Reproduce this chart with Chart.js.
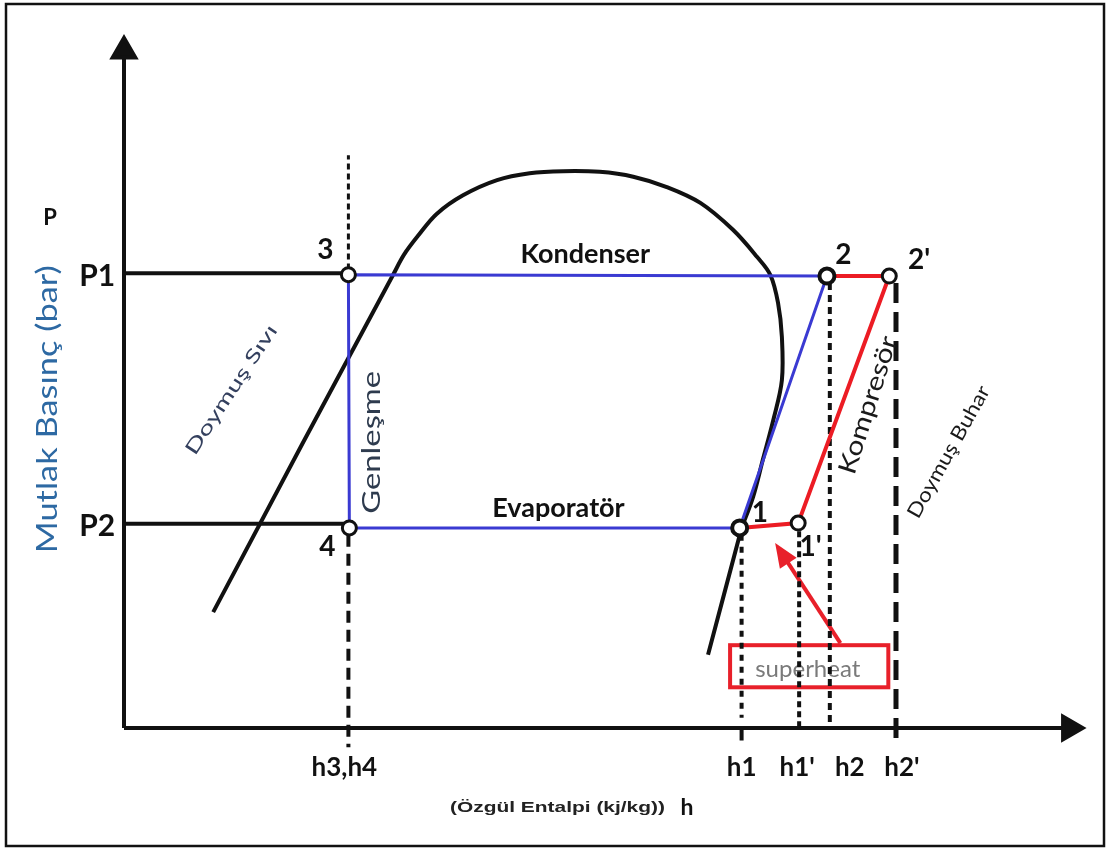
<!DOCTYPE html>
<html>
<head>
<meta charset="utf-8">
<script src="https://cdn.jsdelivr.net/npm/chart.js@4.4.1/dist/chart.umd.min.js"></script>
<style>
  html, body { margin: 0; padding: 0; background: #fff; }
  #wrap { width: 1109px; height: 850px; position: relative; }
</style>
</head>
<body>
<div id="wrap"><canvas id="phChart"></canvas></div>
<script>
// cycle state points, h and p in diagram units (0..100 on both axes)
var stateNames = ['1', "1'", '2', "2'", '3', '4'];
var stateH = [64.2, 70.3, 73.3, 79.8, 23.4, 23.5];
var stateP = [29.0, 29.7, 65.5, 65.5, 65.7, 29.0];

// saturation dome (liquid side up over the top and down the vapour side)
var domeH = [9.3, 18.6, 28.05, 29.2, 30.7, 32.6, 35.35, 38.9, 42.3, 45.8, 49.6, 53.1, 56.6, 60.1, 63.5, 66.0, 67.4, 68.2, 68.6, 68.6, 67.7, 66.6, 65.6, 64.4, 62.65, 60.9];
var domeP = [16.8, 41.2, 65.65, 68.6, 71.4, 74.5, 77.2, 79.4, 80.4, 80.7, 80.6, 79.9, 78.4, 76.1, 72.2, 68.3, 65.65, 61.6, 56.7, 50.4, 44.6, 38.8, 33.5, 29.0, 19.8, 10.6];
var liquidEnd = 2;   // last point of the straight liquid line
var vaporStart = 23; // first point of the straight lower vapour line

// pressure levels and enthalpy marks
var pressureLabels = ['P1', 'P2'];
var pressureValues = [65.9, 29.6];
var enthalpyLabels = ['h3,h4', 'h1', "h1'", 'h2', "h2'"];
var enthalpyValues = [23.4, 64.4, 70.4, 73.6, 80.5];

function pt(i) { return { x: stateH[i], y: stateP[i] }; }
var S = {};
stateNames.forEach(function (n, i) { S[n] = pt(i); });

// text annotations (data units), drawn by the plugin below
var notes = [
  { t: 'Kondenser', h: 48.1, p: 68.6, font: 'bold 27px Lato' },
  { t: 'Evaporatör', h: 45.3, p: 31.9, font: 'bold 27px Lato' },
  { t: '3', h: 21.0, p: 69.3, font: 'bold 28px Lato' },
  { t: '4', h: 21.2, p: 26.2, font: 'bold 28px Lato' },
  { t: '1', h: 66.3, p: 31.2, font: 'bold 28px Lato' },
  { t: "1'", h: 71.6, p: 26.2, font: 'bold 28px Lato' },
  { t: '2', h: 75.0, p: 68.6, font: 'bold 28px Lato' },
  { t: "2'", h: 82.9, p: 67.8, font: 'bold 28px Lato' },
  { t: 'P', h: -7.7, p: 73.9, font: 'bold 22px Lato' },
  { t: 'Mutlak Basınç (bar)', h: -7.9, p: 46.2, font: '28px Lato', color: '#2d69a3', rot: -90, w: 288 },
  { t: 'Genleşme', h: 25.9, p: 41.4, font: '25px Lato', color: '#2e3b4e', rot: -90, w: 143 },
  { t: 'Doymuş Sıvı', h: 11.2, p: 49.0, font: '19px Lato', color: '#34405e', rot: -56.6, w: 151 },
  { t: 'Kompresör', h: 77.6, p: 46.8, font: '25px Lato', color: '#1a1a1a', rot: -72.4, w: 143 },
  { t: 'Doymuş Buhar', h: 86.0, p: 40.0, font: '20px Lato', color: '#1a1a1a', rot: -60.8, w: 148 },
  { t: '(Özgül Entalpi (kj/kg))', h: 45.2, p: -11.6, font: 'bold 15px "Liberation Sans"', color: '#222', w: 215 },
  { t: 'h', h: 58.7, p: -11.6, font: 'bold 23px Lato' }
];
var enthalpyLabelShift = [-4, 0, -2, 20, 6]; // px, labels sit a little off their lines

var bgAndFrame = {
  id: 'bgAndFrame',
  beforeDraw: function (chart) {
    var c = chart.ctx;
    c.save();
    c.fillStyle = '#fff';
    c.fillRect(0, 0, chart.width, chart.height);
    c.restore();
  },
  beforeDatasetsDraw: function (chart) {
    // superheat callout sits under the dotted h2 line
    var c = chart.ctx, xs = chart.scales.x, ys = chart.scales.y;
    var x0 = xs.getPixelForValue(63.2), x1 = xs.getPixelForValue(79.7);
    var y0 = ys.getPixelForValue(12.0), y1 = ys.getPixelForValue(5.9);
    c.save();
    c.strokeStyle = '#e8202a';
    c.lineWidth = 4;
    c.strokeRect(x0, y0, x1 - x0, y1 - y0);
    c.fillStyle = '#7a7a7a';
    c.font = '24px Lato';
    c.textAlign = 'center';
    c.textBaseline = 'middle';
    c.fillText('superheat', xs.getPixelForValue(71.3), ys.getPixelForValue(8.5));
    // arrow
    var ax = xs.getPixelForValue(74.7), ay = ys.getPixelForValue(12.3);
    var tx = xs.getPixelForValue(67.9), ty = ys.getPixelForValue(26.8);
    var ang = Math.atan2(ty - ay, tx - ax);
    c.strokeStyle = '#e8202a';
    c.fillStyle = '#e8202a';
    c.lineWidth = 4;
    c.beginPath();
    c.moveTo(ax, ay);
    c.lineTo(tx - 14 * Math.cos(ang), ty - 14 * Math.sin(ang));
    c.stroke();
    c.beginPath();
    c.moveTo(tx, ty);
    c.lineTo(tx - 24 * Math.cos(ang) + 10 * Math.sin(ang), ty - 24 * Math.sin(ang) - 10 * Math.cos(ang));
    c.lineTo(tx - 24 * Math.cos(ang) - 10 * Math.sin(ang), ty - 24 * Math.sin(ang) + 10 * Math.cos(ang));
    c.closePath();
    c.fill();
    c.restore();
  },
  afterDraw: function (chart) {
    var c = chart.ctx, xs = chart.scales.x, ys = chart.scales.y;
    c.save();
    c.textAlign = 'center';
    c.textBaseline = 'middle';
    notes.forEach(function (n) {
      c.save();
      c.translate(xs.getPixelForValue(n.h), ys.getPixelForValue(n.p));
      if (n.rot) c.rotate(n.rot * Math.PI / 180);
      c.font = n.font;
      c.fillStyle = n.color || '#111';
      if (n.w) c.scale(n.w / c.measureText(n.t).width, 1);
      c.fillText(n.t, 0, 0);
      c.restore();
    });
    c.font = 'bold 30px Lato';
    c.fillStyle = '#111';
    pressureLabels.forEach(function (l, i) {
      c.fillText(l, xs.getPixelForValue(-2.8), ys.getPixelForValue(pressureValues[i]) + 3);
    });
    c.font = 'bold 26px Lato';
    enthalpyLabels.forEach(function (l, i) {
      c.fillText(l, xs.getPixelForValue(enthalpyValues[i]) + enthalpyLabelShift[i], ys.getPixelForValue(-5.8));
    });
    // picture frame
    c.strokeStyle = '#111';
    c.lineWidth = 2.5;
    c.strokeRect(6, 4, 1098, 842);
    c.restore();
  }
};

function seg(data, color, width, dash) {
  return {
    data: data, showLine: true, borderColor: color, borderWidth: width,
    borderDash: dash || [], pointRadius: 0, fill: false, clip: false, tension: 0
  };
}

function domePts(a, b) {
  var out = [];
  for (var i = a; i <= b; i++) out.push({ x: domeH[i], y: domeP[i] });
  return out;
}

var datasets = [
  // state circles on top
  {
    data: stateNames.map(function (n) { return S[n]; }),
    showLine: false, pointStyle: 'circle', pointRadius: [7.5, 7, 7.5, 7, 7, 7], borderWidth: [4, 3, 4, 3, 3, 3],
    borderColor: '#111', backgroundColor: '#fff', clip: false
  },
  // real cycle with superheat (red)
  seg([S['1'], S["1'"], S["2'"], S['2']], '#ec1c24', 4),
  // ideal cycle (blue)
  seg([S['3'], S['2'], S['1'], S['4'], S['3']], '#3a3ad2', 3),
  // axes with arrow heads
  {
    data: [{ x: 0, y: 0 }, { x: 0, y: 98.1 }], showLine: true, borderColor: '#111', borderWidth: 4,
    pointStyle: 'triangle', pointRadius: [0, 13], pointRotation: 0, backgroundColor: '#111', clip: false
  },
  {
    data: [{ x: 0, y: 0 }, { x: 98.6, y: 0 }], showLine: true, borderColor: '#111', borderWidth: 4,
    pointStyle: 'triangle', pointRadius: [0, 13], pointRotation: 90, backgroundColor: '#111', clip: false
  },
  // pressure levels
  seg([{ x: 0, y: pressureValues[0] }, { x: enthalpyValues[0], y: pressureValues[0] }], '#111', 4),
  seg([{ x: 0, y: pressureValues[1] }, { x: enthalpyValues[0], y: pressureValues[1] }], '#111', 4),
  // enthalpy guide lines
  seg([{ x: enthalpyValues[0], y: 65.0 }, { x: enthalpyValues[0], y: 83.0 }], '#111', 3, [6, 4]),
  seg([{ x: enthalpyValues[0], y: 28.0 }, { x: enthalpyValues[0], y: -2.8 }], '#111', 4, [12, 7]),
  seg([{ x: enthalpyValues[1], y: 28.0 }, { x: enthalpyValues[1], y: 1.5 }], '#111', 4, [6, 6]),
  seg([{ x: enthalpyValues[1], y: 0 }, { x: enthalpyValues[1], y: -1.8 }], '#111', 4),
  seg([{ x: enthalpyValues[2], y: 28.5 }, { x: enthalpyValues[2], y: 0 }], '#111', 4, [6, 4]),
  seg([{ x: enthalpyValues[3], y: 64.5 }, { x: enthalpyValues[3], y: 0 }], '#111', 4, [7, 5]),
  seg([{ x: enthalpyValues[4], y: 64.5 }, { x: enthalpyValues[4], y: -2.5 }], '#111', 5, [20, 9]),
  // saturation dome: straight liquid line, curved top, straight lower vapour line
  seg(domePts(0, liquidEnd), '#111', 4),
  Object.assign(seg(domePts(liquidEnd, vaporStart), '#111', 4), { tension: 0.35 }),
  seg(domePts(vaporStart, domeH.length - 1), '#111', 4)
];

new Chart('phChart', {
  type: 'scatter',
  data: { datasets: datasets },
  options: {
    responsive: true,
    maintainAspectRatio: false,
    animation: false,
    events: [],
    layout: { padding: { left: 124, right: 26, top: 38, bottom: 122 } },
    plugins: { legend: { display: false }, tooltip: { enabled: false } },
    scales: {
      x: { type: 'linear', min: 0, max: 100, display: false },
      y: { type: 'linear', min: 0, max: 100, display: false }
    }
  },
  plugins: [bgAndFrame]
});
</script>
</body>
</html>
